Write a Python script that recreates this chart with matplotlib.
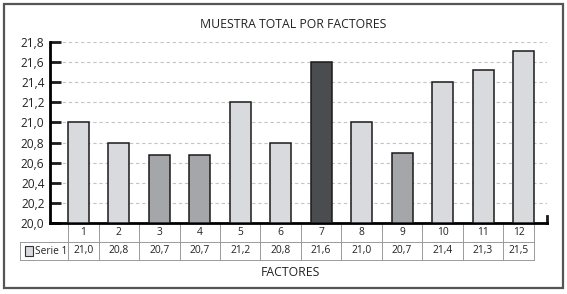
import numpy as np
import matplotlib.pyplot as plt
from matplotlib.patches import Rectangle
import matplotlib.transforms as mtransforms

plt.rcParams['font.family'] = ['Open Sans', 'DejaVu Sans']

# ----------------------------------------
# Data
# ----------------------------------------
factores = ["1", "2", "3", "4", "5", "6", "7", "8", "9", "10", "11", "12"]
alturas = [21.0, 20.8, 20.68, 20.68, 21.2, 20.8, 21.6, 21.0, 20.7, 21.4, 21.52, 21.71]
tabla_valores = ["21,0", "20,8", "20,7", "20,7", "21,2", "20,8", "21,6", "21,0",
                 "20,7", "21,4", "21,3", "21,5"]
tonos = ["l", "l", "m", "m", "l", "l", "d", "l", "m", "l", "l", "l"]
yticks = [20.0, 20.2, 20.4, 20.6, 20.8, 21.0, 21.2, 21.4, 21.6, 21.8]

COLORES = {"l": "#d8dadd", "m": "#a4a6a9", "d": "#4b4c4f"}

W, H = 567, 294
fig = plt.figure(figsize=(W / 100, H / 100), dpi=100)

# frame around everything
fig.patches.append(Rectangle((4 / W, 6 / H), 559 / W, 284 / H, transform=fig.transFigure,
                             fill=False, edgecolor="#555555", linewidth=1.6))

ax = fig.add_axes([50 / W, (H - 223) / H, 497 / W, 181 / H])
x = np.arange(len(factores))
ax.bar(x, np.array(alturas) - 20.0, bottom=20.0, width=0.52,
       color=[COLORES[t] for t in tonos], edgecolor="#1a1a1a", linewidth=1.1, zorder=3)

ax.set_xlim(-0.70, 11.58)
ax.set_ylim(20.0, 21.8)
ax.set_yticks(yticks)
ax.set_yticklabels([f"{v:.1f}".replace(".", ",") for v in yticks], fontsize=8.6)
ax.set_xticks([])
for v in yticks[1:]:
    ax.axhline(v, color="#c4c4c4", linestyle=(0, (3, 2.5)), linewidth=0.8, zorder=1)

for s in ["top", "right"]:
    ax.spines[s].set_visible(False)
ax.spines["left"].set_linewidth(2.0)
ax.spines["bottom"].set_linewidth(2.0)
ax.tick_params(axis="y", direction="in", length=8, width=2, pad=4, colors="#1a1a1a")
ax.tick_params(axis="y", labelcolor="#222222")
# small upturned tick at the right end of the x axis
ax.plot([1, 1], [0, 0.04], transform=ax.transAxes, color="#1a1a1a", lw=2, clip_on=False)

ax.set_title("MUESTRA TOTAL POR FACTORES", fontsize=8.8, color="#222222", pad=10, x=0.49)

# ----------------------------------------
# data table below the axis
# ----------------------------------------
tr = mtransforms.blended_transform_factory(ax.transData, fig.transFigure)
y_top = (H - 223) / H
y_mid = (H - 241.5) / H
y_bot = (H - 260) / H
grid_kw = dict(color="#9a9a9a", lw=0.7, transform=tr, clip_on=False)

bordes = [-0.26] + [i + 0.5 for i in range(len(factores) - 1)] + [11.26]
for b in bordes:
    ax.plot([b, b], [y_bot, y_top], **grid_kw)
ax.plot([bordes[0], bordes[-1]], [y_mid, y_mid], **grid_kw)
ax.plot([bordes[0], bordes[-1]], [y_bot, y_bot], **grid_kw)

# legend cell on the left
x_leg = -1.43
ax.plot([x_leg, bordes[0]], [y_mid, y_mid], **grid_kw)
ax.plot([x_leg, bordes[0]], [y_bot, y_bot], **grid_kw)
ax.plot([x_leg, x_leg], [y_bot, y_mid], **grid_kw)
ax.add_patch(Rectangle((x_leg + 0.1, (H - 256) / H), 0.22, 10 / H, transform=tr,
                       facecolor=COLORES["l"], edgecolor="#333333", lw=0.8, clip_on=False))
ax.text(x_leg + 0.35, (H - 251) / H, "Serie 1", transform=tr, fontsize=7.3,
        va="center", ha="left", color="#222222")

for i, (f, v) in enumerate(zip(factores, tabla_valores)):
    cx = (bordes[i] + bordes[i + 1]) / 2
    ax.text(cx, (H - 232.5) / H, f, transform=tr, fontsize=7.4, ha="center",
            va="center", color="#222222")
    ax.text(cx, (H - 251) / H, v, transform=tr, fontsize=7.4, ha="center",
            va="center", color="#222222")

fig.text(290 / W, (H - 273) / H, "FACTORES", fontsize=8.8, ha="center",
         va="center", color="#222222")

fig.savefig("out.png", dpi=100)
